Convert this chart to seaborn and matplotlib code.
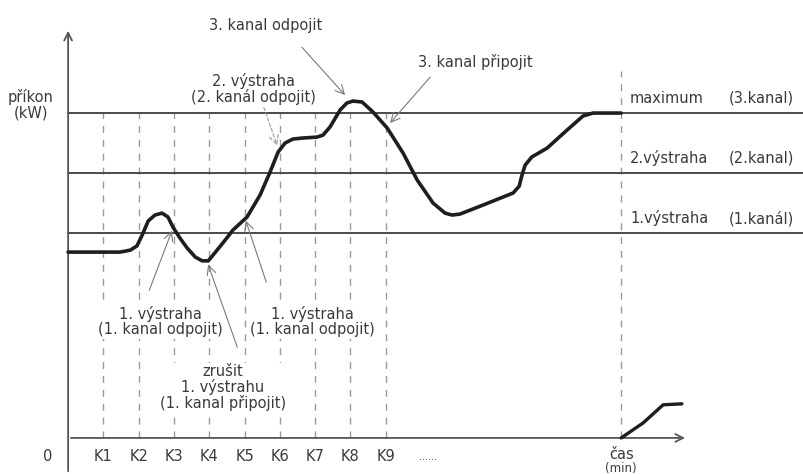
import matplotlib
matplotlib.use("Agg")
import matplotlib.pyplot as plt
import pandas as pd
import seaborn as sns

sns.set_theme(style="white")
plt.rcParams['font.family'] = ['DejaVu Sans']

# ---- data (time in K-steps, power in % of maximum) ----
time = [0.00, 0.91, 1.47, 1.76, 1.95, 2.10, 2.27, 2.46, 2.66, 2.83, 2.97, 3.17,
        3.37, 3.60, 3.80, 3.97, 4.22, 4.45, 4.67, 5.07, 5.44, 5.72, 5.95, 6.15,
        6.37, 6.63, 7.05, 7.22, 7.42, 7.71, 7.90, 8.07, 8.33, 8.64, 9.04, 9.49,
        9.89, 10.34, 10.68, 10.88, 11.10, 11.76, 12.61, 12.78, 12.86, 12.95,
        13.14, 13.57, 14.14, 14.59, 14.87, 15.67]
power = [57.2, 57.2, 57.2, 57.8, 59.1, 62.5, 66.8, 68.6, 69.2, 68.0, 64.9, 61.5,
         58.5, 55.7, 54.5, 54.5, 57.8, 60.9, 64.0, 68.0, 74.8, 81.8, 88.0, 90.8,
         92.0, 92.3, 92.6, 93.2, 95.7, 101.0, 103.1, 103.7, 103.4, 100.3, 95.4,
         87.7, 79.4, 72.3, 69.2, 68.6, 68.9, 71.7, 75.4, 77.5, 80.9, 84.0, 86.5,
         89.2, 94.8, 99.1, 100.0, 100.0]
tail_time = [15.67, 16.29, 16.86, 17.39]
tail_power = [0.0, 4.6, 10.2, 10.5]

levels = [63.0, 81.5, 100.0]
level_names = ["1.výstraha", "2.výstraha", "maximum"]
level_channels = ["(1.kanál)", "(2.kanal)", "(3.kanal)"]

k_pos = [1, 2, 3, 4, 5, 6, 7, 8, 9]
k_labels = ["K1", "K2", "K3", "K4", "K5", "K6", "K7", "K8", "K9"]
t_end = 15.67

# annotations: text, text position, arrow start, arrow tip
notes = [
    ("3. kanal odpojit", (5.61, 127.1), (6.57, 120.9), (7.90, 104.9)),
    ("2. výstraha\n(2. kanál odpojit)", (5.25, 107.5), (5.52, 102.5), (5.95, 89.2)),
    ("3. kanal připojit", (11.53, 115.7), (10.31, 111.7), (9.07, 96.3)),
    ("1. výstraha\n(1. kanal odpojit)", (2.61, 35.7), (2.27, 44.6), (2.97, 64.6)),
    ("1. výstraha\n(1. kanal odpojit)", (6.91, 35.7), (5.64, 47.1), (5.01, 67.7)),
    ("zrušit\n1. výstrahu\n(1. kanal připojit)", (4.39, 15.4), (4.82, 27.1), (3.94, 54.2)),
]

TXT = "#3a3a3a"
FS = 10.5
fig = plt.figure(figsize=(8.04, 4.74), dpi=100)
ax = fig.add_axes([0, 0, 1, 1])

# dashed verticals
ax.vlines(k_pos, 0, levels[-1], colors="#9a9a9a", linestyles=(0, (5, 5)), lw=1.0,
          zorder=1)
ax.vlines([t_end], 0, 113, colors="#9a9a9a", linestyles=(0, (5, 5)), lw=1.0,
          zorder=1)

# level lines
for lv in levels:
    ax.axhline(lv, xmin=1.93 / (20.85 + 1.93), xmax=1, color="#4a4a4a", lw=1.4,
               zorder=2)

# axes with arrows
ax.annotate("", xy=(0, 126.2), xytext=(0, -11.1),
            arrowprops=dict(arrowstyle="->", lw=1.3, color="#555555", mutation_scale=14))
ax.annotate("", xy=(17.56, 0), xytext=(0, 0),
            arrowprops=dict(arrowstyle="->", lw=1.3, color="#555555", mutation_scale=14))

# curves
df = pd.DataFrame({"time": time, "power": power})
sns.lineplot(data=df, x="time", y="power", ax=ax, color="#1e1e1e", lw=2.6,
             estimator=None, sort=False, solid_joinstyle="round",
             solid_capstyle="round", zorder=4)
df2 = pd.DataFrame({"time": tail_time, "power": tail_power})
sns.lineplot(data=df2, x="time", y="power", ax=ax, color="#1e1e1e", lw=2.4,
             estimator=None, sort=False, solid_joinstyle="round",
             solid_capstyle="round", zorder=4)
ax.set_xlim(-1.93, 20.85)
ax.set_ylim(-11.1, 134.8)
ax.axis("off")

# annotations
for i, (txt, tpos, start, tip) in enumerate(notes):
    ax.text(tpos[0], tpos[1], txt, ha="center", va="center", fontsize=FS,
            color=TXT, linespacing=1.0, zorder=3,
            bbox=dict(boxstyle="square,pad=0.1", fc="white", ec="none"))
    ax.annotate("", xy=tip, xytext=start, zorder=5,
                arrowprops=dict(arrowstyle="->", lw=0.8,
                                color="#9a9a9a" if i == 1 else "#7a7a7a",
                                linestyle=(0, (3, 2)) if i == 1 else "-",
                                mutation_scale=16))

# level labels
for lv, name, ch in zip(levels, level_names, level_channels):
    ax.text(15.92, lv + 4.6, name, ha="left", va="center", fontsize=FS, color=TXT)
    ax.text(18.72, lv + 4.6, ch, ha="left", va="center", fontsize=FS, color=TXT)

# tick labels
for k, lab in zip(k_pos, k_labels):
    ax.text(k, -5.8, lab, ha="center", va="center", fontsize=FS, color=TXT)
ax.text(-0.57, -5.8, "0", ha="center", va="center", fontsize=FS, color=TXT)
ax.text(10.2, -5.8, "......", ha="center", va="center", fontsize=7, color=TXT)
ax.text(t_end, -5.2, "čas", ha="center", va="center", fontsize=FS, color=TXT)
ax.text(t_end, -9.3, "(min)", ha="center", va="center", fontsize=8.5, color=TXT)
ax.text(-1.05, 102.5, "příkon\n(kW)", ha="center", va="center", fontsize=FS,
        color=TXT, linespacing=1.0)

fig.savefig("out.png", dpi=100)
